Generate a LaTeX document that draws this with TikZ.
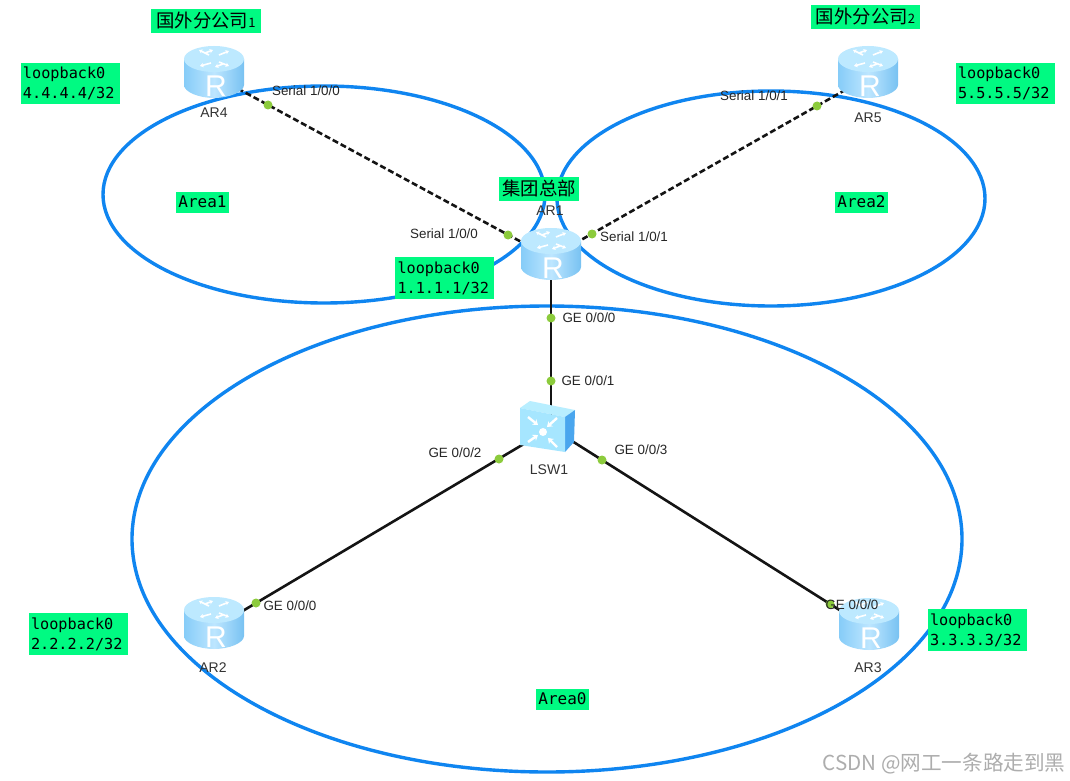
\documentclass[tikz,border=0pt]{standalone}
\usepackage{fontspec}
\usetikzlibrary{arrows.meta}
\setmainfont{Liberation Sans}
\newfontfamily\cjkf{Noto Sans CJK SC}
\newfontfamily\monof{DejaVu Sans Mono}
\definecolor{areablue}{HTML}{0F85F0}
\definecolor{tagg}{HTML}{00FA82}
\definecolor{dotg}{HTML}{8CCB3C}
\definecolor{linkk}{HTML}{141414}
\definecolor{rtop}{HTML}{BDE9FF}
\definecolor{rl}{HTML}{86CCF8}
\definecolor{rm}{HTML}{BDE6FF}
\definecolor{rr}{HTML}{78C2F2}
\definecolor{swf}{HTML}{A6E6FF}
\definecolor{swt}{HTML}{B8EEFF}
\definecolor{sws}{HTML}{4AA6EE}
\tikzset{
  x=1pt,y=-1pt,
  hub/.style={inner sep=0pt,minimum size=10pt},
  area/.style={draw=areablue,line width=3.4pt},
  plainlink/.style={draw=linkk,line width=2.6pt},
  dashlink/.style={draw=linkk,line width=2.6pt,dash pattern=on 6pt off 3pt},
  portdot/.style={circle,fill=dotg,inner sep=0pt,minimum size=9pt},
  lbl/.style={font=\fontsize{13.4}{15}\selectfont,text=black!85,inner sep=0pt},
  devname/.style={font=\fontsize{14}{16}\selectfont,text=black!80,inner sep=0pt},
  tag/.style={fill=tagg,inner sep=0pt,align=left,text=black},
  looptag/.style={tag,font=\fontsize{15.2}{20}\monof\selectfont,text width=94pt,inner xsep=2.5pt,inner ysep=4pt},
  areatag/.style={tag,font=\fontsize{16}{18}\monof\selectfont,minimum width=53pt,minimum height=21pt,align=center},
  cntag/.style={tag,font=\fontsize{18.4}{20}\cjkf\selectfont,minimum height=24pt,align=center},
  mini/.style={white,line width=1.6pt,-{Stealth[length=3.5pt,width=4.5pt]}},
  bigmini/.style={white,line width=2.4pt,-{Stealth[length=5pt,width=7pt]}},
  routericon/.pic={
    \path[left color=rl,right color=rr,middle color=rm]
      (-30,-13) -- (-30,13) .. controls (-30,20) and (-15,26) .. (0,26)
      .. controls (15,26) and (30,20) .. (30,13) -- (30,-13) -- cycle;
    \fill[rtop] (0,-13) ellipse (30pt and 13pt);
    \draw[mini] (-5,-17) -- (-15,-22);
    \draw[mini] (-3,-9) -- (-14,-6);
    \draw[mini] (5,-17) -- (15,-21);
    \draw[mini] (5,-10) -- (15,-6);
    \draw[mini] (-9,-19) -- (-1,-22);
    \draw[mini] (9,-8) -- (1,-5);
    \node[text=white,inner sep=0pt,font=\fontsize{30}{30}\selectfont] at (2,14.5) {R};
  },
  switchicon/.pic={
    \fill[swt] (-29,-20) -- (-19,-27) -- (26,-18) -- (16,-11) -- cycle;
    \fill[sws] (16,-11) -- (26,-18) -- (25,14) -- (16,24) -- cycle;
    \fill[swf] (-29,-20) -- (16,-11) -- (16,24) -- (-29,17) -- cycle;
    \draw[bigmini] (-21,-11) -- (-11,-3);
    \draw[bigmini] (8,-10) -- (-2,-1);
    \draw[bigmini] (-21,14) -- (-11,7);
    \draw[bigmini] (8,19) -- (-1,10);
    \fill[white] (-6,4) circle (4pt);
  }
}
\begin{document}
\begin{tikzpicture}
\useasboundingbox (0,0) rectangle (1070,781);
\fill[white] (0,0) rectangle (1070,781);
% device anchors
\node[hub] (ar4) at (214,72) {};
\node[hub] (ar5) at (868,72) {};
\node[hub] (ar1) at (551,254) {};
\node[hub] (ar2) at (214,623) {};
\node[hub] (ar3) at (869,624) {};
\node[hub] (lsw) at (549,428) {};
% link ends inside the icons
\coordinate (e4) at (214,75.7);
\coordinate (e14) at (551,258);
\coordinate (e5) at (868,77);
\coordinate (e15) at (551,257);
\coordinate (e2) at (214,628);
\coordinate (e32) at (549,429);
\coordinate (e3) at (869,628.6);
\coordinate (e33) at (549,426.5);
% areas
\draw[area] (324,194.5) ellipse (221pt and 108.5pt);
\draw[area] (771,198.5) ellipse (214pt and 107.5pt);
\draw[area] (547,539) ellipse (415pt and 233pt);
% links
\draw[dashlink] (e4) -- (e14);
\draw[dashlink] (e15) -- (e5);
\draw[plainlink] (ar1.center) -- (lsw.center -| ar1.center);
\draw[plainlink] (e32) -- (e2);
\draw[plainlink] (e33) -- (e3);
% icons
\pic at (ar4) {routericon};
\pic at (ar5) {routericon};
\pic at (ar1) {routericon};
\pic at (ar2) {routericon};
\pic at (ar3) {routericon};
\pic at (lsw) {switchicon};
% port dots
\node[portdot] (d1) at (268,105) {};
\node[portdot] (d2) at (817,106) {};
\node[portdot] (d3) at (508,235) {};
\node[portdot] (d4) at (592,234) {};
\node[portdot] (d5) at (551,318) {};
\node[portdot] (d6) at (551,381) {};
\node[portdot] (d7) at (499,459) {};
\node[portdot] (d8) at (602,460) {};
\node[portdot] (d9) at (256,603) {};
\node[portdot] (d10) at (830,604) {};
% tags
\node[cntag,minimum width=110pt] (t1) at (206,21) {国外分公司\fontsize{13}{15}\selectfont 1};
\node[cntag,minimum width=109pt] (t2) at (865.5,17) {国外分公司\fontsize{13}{15}\selectfont 2};
\node[cntag,minimum width=80pt] (t3) at (539,188.5) {集团总部};
\node[looptag] (l4) at (70,83.5) {loopback0\\4.4.4.4/32};
\node[looptag] (l5) at (1005,83.5) {loopback0\\5.5.5.5/32};
\node[looptag] (l1) at (444.5,278) {loopback0\\1.1.1.1/32};
\node[looptag] (l2) at (78,634) {loopback0\\2.2.2.2/32};
\node[looptag] (l3) at (977,630) {loopback0\\3.3.3.3/32};
\node[areatag] (a1) at (202.5,202) {Area1};
\node[areatag] (a2) at (861.5,202) {Area2};
\node[areatag] (a0) at (562.5,699) {Area0};
% device names
\node[devname] (n4) at (214,113) {AR4};
\node[devname] (n5) at (868,118) {AR5};
\node[devname] (n1) at (550,211) {AR1};
\node[devname] (n6) at (549,470) {LSW1};
\node[devname] (n2) at (213,668) {AR2};
\node[devname] (n3) at (868,668) {AR3};
% port labels
\node[lbl] (p1) at (306,91) {Serial 1/0/0};
\node[lbl] (p2) at (754,96) {Serial 1/0/1};
\node[lbl] (p3) at (444,234) {Serial 1/0/0};
\node[lbl] (p4) at (634,237) {Serial 1/0/1};
\node[lbl] (p5) at (589,318) {GE 0/0/0};
\node[lbl] (p6) at (588,381) {GE 0/0/1};
\node[lbl] (p7) at (455,453) {GE 0/0/2};
\node[lbl] (p8) at (641,450) {GE 0/0/3};
\node[lbl] (p9) at (290,606) {GE 0/0/0};
\node[lbl] (p10) at (852,605) {GE 0/0/0};
% watermark
\node[inner sep=0pt,text=black!32,font=\fontsize{20.6}{22}\cjkf\selectfont] (wm) at (944,764) {CSDN @网工一条路走到黑};
\end{tikzpicture}
\end{document}
